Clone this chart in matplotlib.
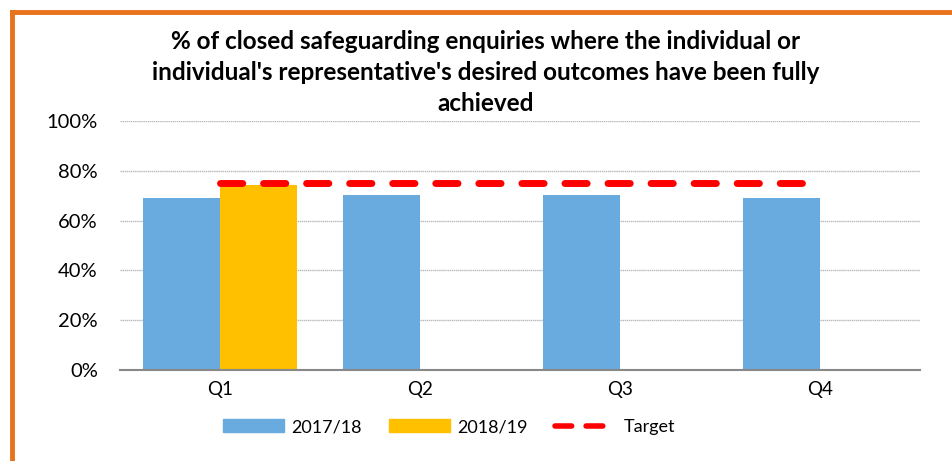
import numpy as np
import matplotlib.pyplot as plt
from matplotlib.lines import Line2D
from matplotlib.patches import Patch

quarters = ["Q1", "Q2", "Q3", "Q4"]
v_1718 = [69.2, 70.3, 70.3, 69.2]
v_1819 = [74.4, np.nan, np.nan, np.nan]
target = [75, 75, 75, 75]

plt.rcParams['font.family'] = ['Lato', 'DejaVu Sans']

fig = plt.figure(figsize=(9.52, 4.61), dpi=100)
ax = fig.add_axes([120/952, 91/461, 800/952, 249/461])

x = np.arange(len(quarters))
w = 0.385
blue = "#69AADF"
gold = "#FFC000"
ax.bar(x - w/2, v_1718, w, color=blue, label="2017/18")
ax.bar(x + w/2, v_1819, w, color=gold, label="2018/19")
ax.plot(x, target, color="#FF0000", lw=5, dashes=(3.2, 3.0), dash_capstyle="round",
        label="Target")

ax.set_xlim(-0.5, 3.5)
ax.set_ylim(0, 100)
ax.set_xticks(x)
ax.set_xticklabels(quarters, fontsize=13.5)
ax.set_yticks(np.arange(0, 101, 20))
ax.set_yticklabels([f"{v}%" for v in range(0, 101, 20)], fontsize=14.5)
ax.tick_params(axis="x", length=0, pad=8)
ax.tick_params(axis="y", length=0, pad=16)
ax.yaxis.grid(True, color="#B8B8B8", lw=1, ls=(0, (1, 0.5)))
ax.set_axisbelow(True)
for s in ["left", "right", "top"]:
    ax.spines[s].set_visible(False)
ax.spines["bottom"].set_color("#888888")
ax.spines["bottom"].set_linewidth(1.5)

title = ("% of closed safeguarding enquiries where the individual or\n"
         "individual's representative's desired outcomes have been fully\n"
         "achieved")
fig.text(486/952, 1 - 30/461, title, ha="center", va="top", fontsize=17.5,
         fontweight="bold", linespacing=1.42)

handles = [Patch(color=blue), Patch(color=gold),
           Line2D([], [], color="#FF0000", lw=4, dashes=(3.0, 2.6), dash_capstyle="round")]
fig.legend(handles, ["2017/18", "2018/19", "Target"], loc="center",
           bbox_to_anchor=(449/952, 1 - 427/461), ncol=3, frameon=False,
           fontsize=13, handlelength=3.4, handleheight=0.75, columnspacing=1.5,
           handletextpad=0.4)

# orange frame
orange = "#E8731A"
fig.add_artist(Line2D([12/952, 1], [1 - 12/461, 1 - 12/461], color=orange, lw=3.5,
                      transform=fig.transFigure))
fig.add_artist(Line2D([12/952, 12/952], [0, 1 - 12/461], color=orange, lw=3.5,
                      transform=fig.transFigure))

fig.savefig("out.png", dpi=100)
